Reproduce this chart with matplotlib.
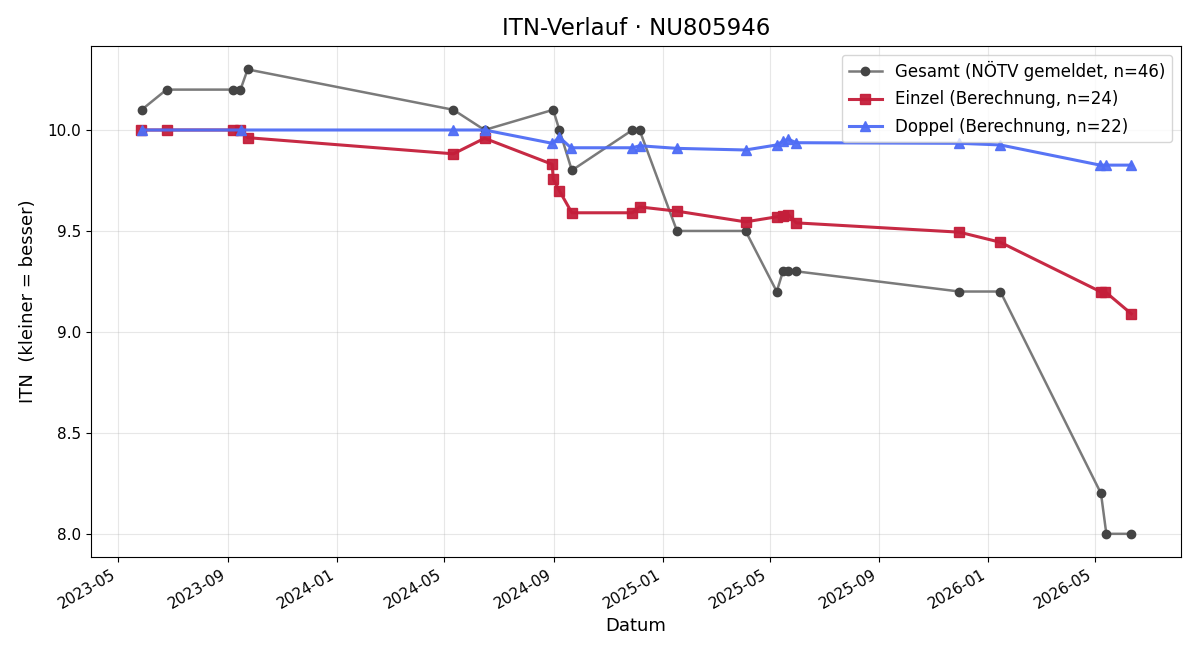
import matplotlib
matplotlib.use("Agg")
import matplotlib.pyplot as plt
import matplotlib.dates as mdates
import pandas as pd

# --- Gesamt-ITN (vom NÖTV gemeldet) ---
GES_DATUM = ["2023-05-27", "2023-06-24", "2023-09-07", "2023-09-15", "2023-09-23",
             "2024-05-11", "2024-06-15", "2024-08-31", "2024-09-07", "2024-09-21",
             "2024-11-28", "2024-12-06", "2025-01-17", "2025-04-04", "2025-05-09",
             "2025-05-16", "2025-05-22", "2025-05-31", "2025-11-30", "2026-01-15",
             "2026-05-08", "2026-05-14", "2026-06-11"]
GES_ITN = [10.1, 10.2, 10.2, 10.2, 10.3,
           10.1, 10.0, 10.1, 10.0, 9.8,
           10.0, 10.0, 9.5, 9.5, 9.2,
           9.3, 9.3, 9.3, 9.2, 9.2,
           8.2, 8.0, 8.0]

# --- Einzel (Berechnung) ---
EIN_DATUM = ["2023-05-26", "2023-06-24", "2023-09-07", "2023-09-15", "2023-09-23",
             "2024-05-11", "2024-06-15", "2024-08-30", "2024-08-31", "2024-09-07",
             "2024-09-21", "2024-11-28", "2024-12-06", "2025-01-17", "2025-04-04",
             "2025-05-09", "2025-05-16", "2025-05-22", "2025-05-31", "2025-11-30",
             "2026-01-15", "2026-05-08", "2026-05-13", "2026-06-11"]
EIN_ITN = [10.0, 10.0, 10.0, 10.0, 9.962,
           9.882, 9.959, 9.830, 9.758, 9.699,
           9.590, 9.590, 9.619, 9.598, 9.545,
           9.570, 9.573, 9.581, 9.540, 9.494,
           9.444, 9.198, 9.198, 9.090]

# --- Doppel (Berechnung) ---
DOP_DATUM = ["2023-05-27", "2023-09-16", "2024-05-11", "2024-06-15", "2024-08-30",
             "2024-09-07", "2024-09-20", "2024-11-28", "2024-12-06", "2025-01-17",
             "2025-04-04", "2025-05-09", "2025-05-16", "2025-05-22", "2025-05-31",
             "2025-11-30", "2026-01-15", "2026-05-07", "2026-05-14", "2026-06-11"]
DOP_ITN = [10.0, 10.0, 10.0, 10.0, 9.934,
           9.964, 9.912, 9.912, 9.922, 9.909,
           9.901, 9.926, 9.945, 9.954, 9.937,
           9.934, 9.926, 9.826, 9.826, 9.826]

C_GES_LINE, C_GES_PT = "#7a7a7a", "#444444"
C_EIN, C_DOP = "#C41E3A", "#4F6DF5"

fig, ax = plt.subplots(figsize=(12, 6.6), dpi=100)

ax.plot(pd.to_datetime(GES_DATUM), GES_ITN, "-o", color=C_GES_LINE, mfc=C_GES_PT, mec=C_GES_PT,
        lw=1.8, ms=6, label="Gesamt (NÖTV gemeldet, n=46)", zorder=2)
ax.plot(pd.to_datetime(EIN_DATUM), EIN_ITN, "-s", color=C_EIN, alpha=0.95,
        lw=2.2, ms=7.5, label="Einzel (Berechnung, n=24)", zorder=3)
ax.plot(pd.to_datetime(DOP_DATUM), DOP_ITN, "-^", color=C_DOP, alpha=0.95,
        lw=2.2, ms=7.5, label="Doppel (Berechnung, n=22)", zorder=3)

ax.set_title("ITN-Verlauf · NU805946", fontsize=16.5, pad=8)
ax.set_xlabel("Datum", fontsize=13)
ax.set_ylabel("ITN  (kleiner = besser)", fontsize=13, labelpad=8)
ax.grid(True, alpha=0.3)
ax.tick_params(labelsize=11)

ax.xaxis.set_major_locator(mdates.MonthLocator(bymonth=[1, 5, 9]))
ax.xaxis.set_major_formatter(mdates.DateFormatter("%Y-%m"))
for lbl in ax.get_xticklabels():
    lbl.set_rotation(30)
    lbl.set_ha("right")

ax.legend(loc="upper right", fontsize=12, labelspacing=0.55)

fig.subplots_adjust(left=0.076, right=0.984, top=0.930, bottom=0.156)
fig.savefig("out.png", dpi=100)
